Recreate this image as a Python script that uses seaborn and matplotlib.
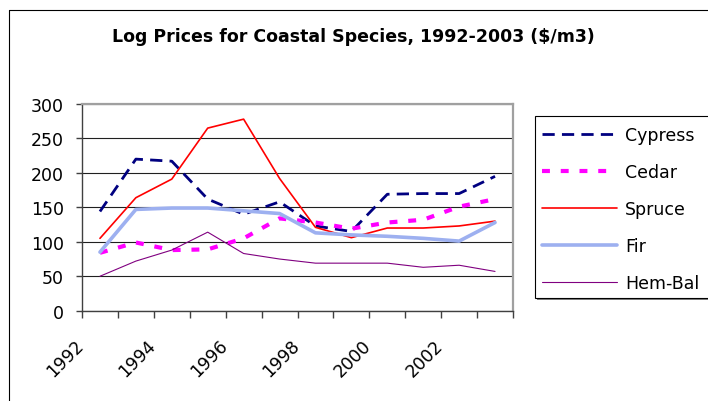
import matplotlib
matplotlib.use("Agg")
import matplotlib.pyplot as plt
import matplotlib.transforms as mtransforms
from matplotlib.lines import Line2D
from matplotlib.patches import Rectangle
import numpy as np
import pandas as pd
import seaborn as sns

# Log prices by year ($/m3)
years = list(range(1992, 2004))
species = ["Cypress", "Cedar", "Spruce", "Fir", "Hem-Bal"]
cypress = [144, 220, 217, 162, 140, 158, 123, 115, 169, 170, 170, 195]
cedar = [84, 99, 88, 89, 105, 134, 128, 119, 128, 132, 151, 162]
spruce = [105, 164, 191, 265, 278, 192, 121, 106, 120, 120, 123, 130]
fir = [85, 147, 149, 149, 145, 141, 113, 110, 108, 105, 101, 128]
hem_bal = [50, 72, 88, 114, 83, 75, 69, 69, 69, 63, 66, 57]
y_ticks = [0, 50, 100, 150, 200, 250, 300]
x_tick_years = [1992, 1994, 1996, 1998, 2000, 2002]
title = "Log Prices for Coastal Species, 1992-2003 ($/m3)"

sns.set_theme(style="white")
plt.rcParams["font.family"] = ["DejaVu Sans"]
plt.rcParams["text.color"] = "black"
plt.rcParams["xtick.color"] = "black"
plt.rcParams["ytick.color"] = "black"

df = pd.DataFrame({
    "Year": years * len(species),
    "Price": cypress + cedar + spruce + fir + hem_bal,
    "Species": np.repeat(species, len(years)),
})

colors = {"Cypress": "#000080", "Cedar": "#FF00FF", "Spruce": "#FF0000",
          "Fir": "#9DB0F0", "Hem-Bal": "#800080"}
widths = {"Cypress": 2.0, "Cedar": 3.0, "Spruce": 1.2, "Fir": 2.6, "Hem-Bal": 0.8}
dashes = {"Cypress": (4.4, 2.6), "Cedar": (1.9, 2.6), "Spruce": "", "Fir": "", "Hem-Bal": ""}

W, H = 708, 402
fig = plt.figure(figsize=(W / 100, H / 100), dpi=100)
ax = fig.add_axes([82 / W, 1 - 311.7 / H, 431 / W, 206.7 / H])

sns.lineplot(data=df, x="Year", y="Price", hue="Species", style="Species", size="Species",
             hue_order=species, style_order=species, size_order=species,
             palette=colors, dashes=dashes, sizes=widths, legend=False,
             estimator=None, sort=False, ax=ax)

ax.set_xlim(1991.5, 2003.5)
ax.set_ylim(0, 300)
ax.set_xlabel("")
ax.set_ylabel("")
ax.set_yticks(y_ticks)
ax.yaxis.grid(True, color="#202020", lw=0.8)
ax.set_axisbelow(True)

ax.set_xticks(np.arange(1991.5, 2004, 1), minor=True)
ax.set_xticks(x_tick_years)
ax.set_xticklabels([str(y) for y in x_tick_years])
ax.tick_params(axis="x", which="major", bottom=True, length=0, labelsize=12.5, pad=0,
               labelcolor="black")
ax.tick_params(axis="x", which="minor", bottom=True, length=5, width=1, color="#404040", direction="out")
ax.tick_params(axis="y", left=True, length=4, width=1, color="#404040", direction="out",
               pad=9, labelsize=12.5, labelcolor="black")

offset = mtransforms.ScaledTranslation(-0.25, -0.25, fig.dpi_scale_trans)
for lbl in ax.get_xticklabels():
    lbl.set_rotation(45)
    lbl.set_ha("right")
    lbl.set_va("top")
    lbl.set_rotation_mode("anchor")
    lbl.set_transform(lbl.get_transform() + offset)

for side in ("left", "bottom"):
    ax.spines[side].set_color("#404040")
    ax.spines[side].set_linewidth(1.0)
for side in ("top", "right"):
    ax.spines[side].set_color("#A0A0A0")
    ax.spines[side].set_linewidth(1.6)

fig.text(353 / W, 1 - 37 / H, title, ha="center", va="center", fontsize=12.5,
         fontweight="bold", color="black")

# chart area border
fig.add_artist(Line2D([9 / W, 9 / W], [0, 1 - 11 / H], transform=fig.transFigure, color="black", lw=0.8))
fig.add_artist(Line2D([9 / W, 1], [1 - 11 / H, 1 - 11 / H], transform=fig.transFigure, color="black", lw=0.8))

# legend box with shadow
box_h = (298.7 - 116.7) / H
fig.add_artist(Rectangle((536.5 / W, 1 - 300.7 / H), 0.5, box_h, transform=fig.transFigure,
                         facecolor="#808080", edgecolor="none", zorder=1))
fig.add_artist(Rectangle((534.5 / W, 1 - 298.7 / H), 0.5, box_h, transform=fig.transFigure,
                         facecolor="white", edgecolor="black", lw=0.8, zorder=2))

handles = []
for sp in species:
    d = dashes[sp]
    if d:
        h = Line2D([], [], color=colors[sp], lw=widths[sp], dashes=d)
    else:
        h = Line2D([], [], color=colors[sp], lw=widths[sp], linestyle="-")
    handles.append(h)

leg = fig.legend(handles, species, loc="upper left", bbox_to_anchor=(541.7 / W, 1 - 126.6 / H),
                 frameon=False, borderpad=0, borderaxespad=0, handlelength=4.35,
                 handletextpad=0.45, labelspacing=1.10, fontsize=12.5)
leg.set_zorder(3)

fig.savefig("out.png", dpi=100)
